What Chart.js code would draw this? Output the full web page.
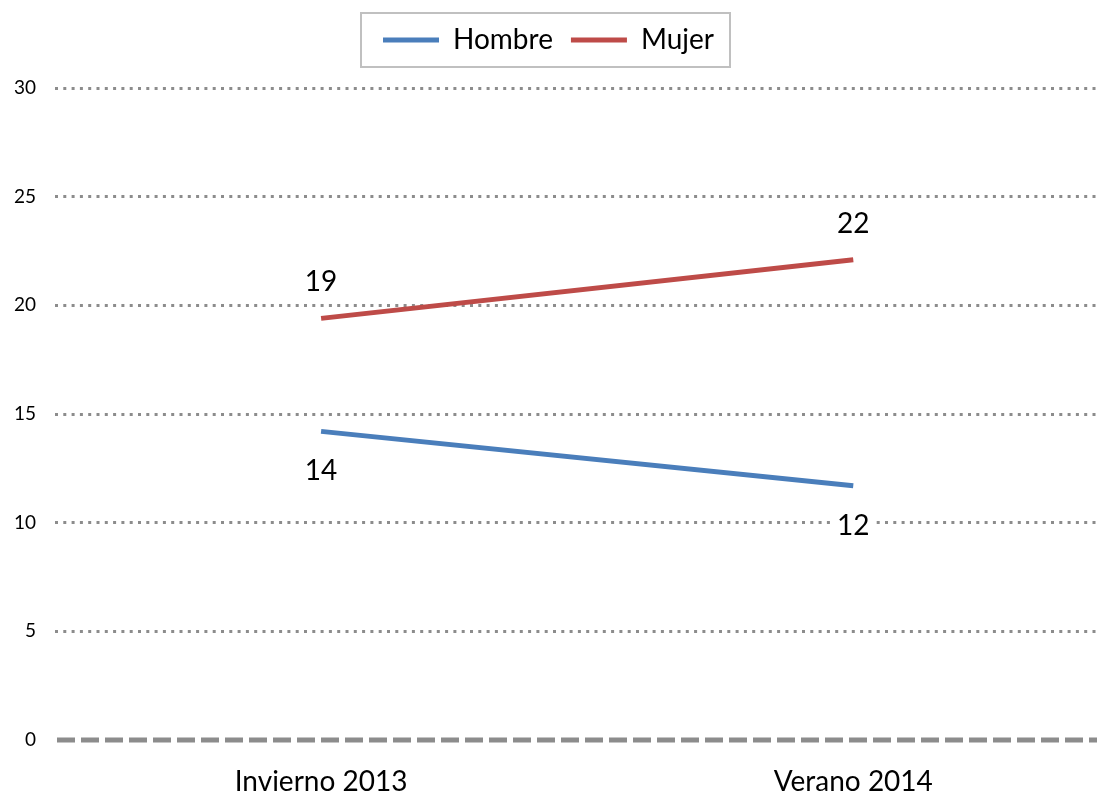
<!DOCTYPE html>
<html>
<head>
<meta charset="utf-8">
<script src="https://cdn.jsdelivr.net/npm/chart.js@4.4.1/dist/chart.umd.min.js"></script>
<style>
  html, body { margin: 0; padding: 0; background: #fff; }
  #wrap { width: 1099px; height: 796px; }
</style>
</head>
<body>
<div id="wrap"><canvas id="chart"></canvas></div>
<script>
const categories = ['Invierno 2013', 'Verano 2014'];
const hombre = [14.2, 11.7];
const mujer = [19.4, 22.1];
const hombreLabels = ['14', '12'];
const mujerLabels = ['19', '22'];
const yTicks = [0, 5, 10, 15, 20, 25, 30];

const FONT = 'Lato, "Noto Sans", sans-serif';

// labels drawn above/below each point, with white background like the original
const pointLabels = {
    id: 'pointLabels',
    afterDatasetsDraw(chart) {
        const ctx = chart.ctx;
        ctx.save();
        ctx.font = '28px ' + FONT;
        ctx.textAlign = 'center';
        ctx.textBaseline = 'middle';
        chart.data.datasets.forEach((ds, i) => {
            const meta = chart.getDatasetMeta(i);
            meta.data.forEach((pt, j) => {
                const txt = ds.pointText[j];
                const y = pt.y + ds.textOffset;
                const w = ctx.measureText(txt).width;
                ctx.fillStyle = '#fff';
                ctx.fillRect(pt.x - w / 2 - 6, y - 14, w + 12, 28);
                ctx.fillStyle = '#000';
                ctx.fillText(txt, pt.x, y);
            });
        });
        ctx.restore();
    }
};

// extra room under the legend, dashed zero line and a frame round the legend
const extras = {
    id: 'extras',
    beforeInit(chart) {
        const fit = chart.legend.fit;
        chart.legend.fit = function () {
            fit.call(this);
            this.height += 24;
        };
    },
    beforeDatasetsDraw(chart) {
        const {ctx, chartArea} = chart;
        const y0 = chart.scales.y.getPixelForValue(0);
        ctx.save();
        ctx.strokeStyle = '#8c8c8c';
        ctx.lineWidth = 5;
        ctx.setLineDash([18, 6]);
        ctx.beginPath();
        ctx.moveTo(chartArea.left + 2, y0);
        ctx.lineTo(chartArea.right, y0);
        ctx.stroke();
        ctx.restore();
    },
    afterDraw(chart) {
        const boxes = chart.legend.legendHitBoxes;
        if (!boxes || !boxes.length) return;
        const left = Math.min(...boxes.map(b => b.left)) - 22;
        const right = Math.max(...boxes.map(b => b.left + b.width)) + 16;
        const cy = boxes[0].top + boxes[0].height / 2;
        const ctx = chart.ctx;
        ctx.save();
        ctx.strokeStyle = '#c0c0c0';
        ctx.lineWidth = 2;
        ctx.strokeRect(left, cy - 27, right - left, 54);
        ctx.restore();
    }
};

new Chart(document.getElementById('chart'), {
    type: 'line',
    data: {
        datasets: [
            {
                label: 'Hombre',
                data: hombre.map((v, i) => ({x: i, y: v})),
                borderColor: '#4a7ebb',
                backgroundColor: '#4a7ebb',
                borderWidth: 5,
                pointRadius: 0,
                pointText: hombreLabels,
                textOffset: 40
            },
            {
                label: 'Mujer',
                data: mujer.map((v, i) => ({x: i, y: v})),
                borderColor: '#be4b48',
                backgroundColor: '#be4b48',
                borderWidth: 5,
                pointRadius: 0,
                pointText: mujerLabels,
                textOffset: -36
            }
        ]
    },
    options: {
        responsive: true,
        maintainAspectRatio: false,
        animation: false,
        layout: { padding: { top: 8, right: 2 } },
        plugins: {
            tooltip: { enabled: false },
            legend: {
                position: 'top',
                labels: {
                    usePointStyle: true,
                    pointStyle: 'line',
                    pointStyleWidth: 56,
                    color: '#000',
                    padding: 18,
                    font: { family: FONT, size: 28 }
                }
            }
        },
        scales: {
            x: {
                type: 'linear',
                min: -0.5,
                max: 1.458,
                afterBuildTicks: s => { s.ticks = categories.map((c, i) => ({value: i})); },
                afterFit: s => { s.height = 56; },
                grid: { display: false },
                border: { display: false },
                ticks: {
                    color: '#000',
                    padding: 17,
                    font: { family: FONT, size: 28 },
                    callback: v => categories[v]
                }
            },
            y: {
                min: 0,
                max: 30,
                afterBuildTicks: s => { s.ticks = yTicks.map(v => ({value: v})); },
                afterFit: s => { s.width = 55; },
                grid: {
                    color: c => c.tick && c.tick.value === 0 ? 'rgba(0,0,0,0)' : '#8c8c8c',
                    lineWidth: 3,
                    drawTicks: false
                },
                border: { display: false, dash: [3, 5.3] },
                ticks: {
                    color: '#000',
                    padding: 19,
                    font: { family: FONT, size: 19 }
                }
            }
        }
    },
    plugins: [pointLabels, extras]
});
</script>
</body>
</html>
